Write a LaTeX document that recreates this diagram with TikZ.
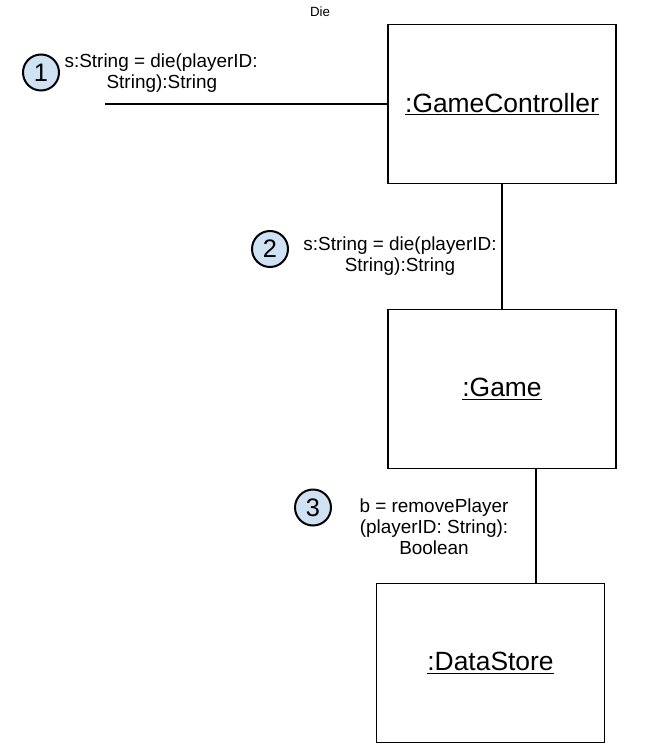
\documentclass[tikz,border=0pt]{standalone}
\usepackage{fontspec}
\setmainfont{Liberation Sans}
\definecolor{stepblue}{HTML}{CFE2F3}
\begin{document}
\begin{tikzpicture}[x=0.75pt, y=-0.75pt,
    objbox/.style={draw, line width=0.9pt, minimum width=171pt, minimum height=119pt, font=\fontsize{19.8}{24}\selectfont},
    msg/.style={align=center, inner sep=1pt, font=\fontsize{14.2}{15.75}\selectfont},
    num/.style={draw, circle, line width=1.5pt, fill=stepblue, minimum size=27pt, inner sep=0pt, font=\fontsize{19}{20}\selectfont},
    link/.style={line width=0.9pt}
]
\useasboundingbox (0,0) rectangle (650,749);
\node[font=\fontsize{10}{12}\selectfont] (title) at (320,12) {Die};
\node[objbox] (gc) at (502,104) {\underline{:GameController}};
\node[objbox] (game) at (502,389) {\underline{:Game}};
\node[objbox] (ds) at (490.5,663) {\underline{:DataStore}};
\coordinate (start) at (105,104);
\coordinate (m3) at (536,0);
\draw[link] (start) -- (gc.west);
\draw[link] (gc.south) -- (game.north);
\draw[link] (game.south -| m3) -- (ds.north -| m3);
\node[num] (n1) at (41,72.5) {1};
\node[num] (n2) at (270,249) {2};
\node[num] (n3) at (313,507.5) {3};
\node[msg, align=left, anchor=north west] (l1) at (63,52) {s:String = die(playerID:\\\hspace*{31.5pt}String):String};
\node[msg] (l2) at (400,256) {s:String = die(playerID:\\String):String};
\node[msg] (l3) at (434,527) {b = removePlayer\\(playerID: String):\\Boolean};
\end{tikzpicture}
\end{document}
